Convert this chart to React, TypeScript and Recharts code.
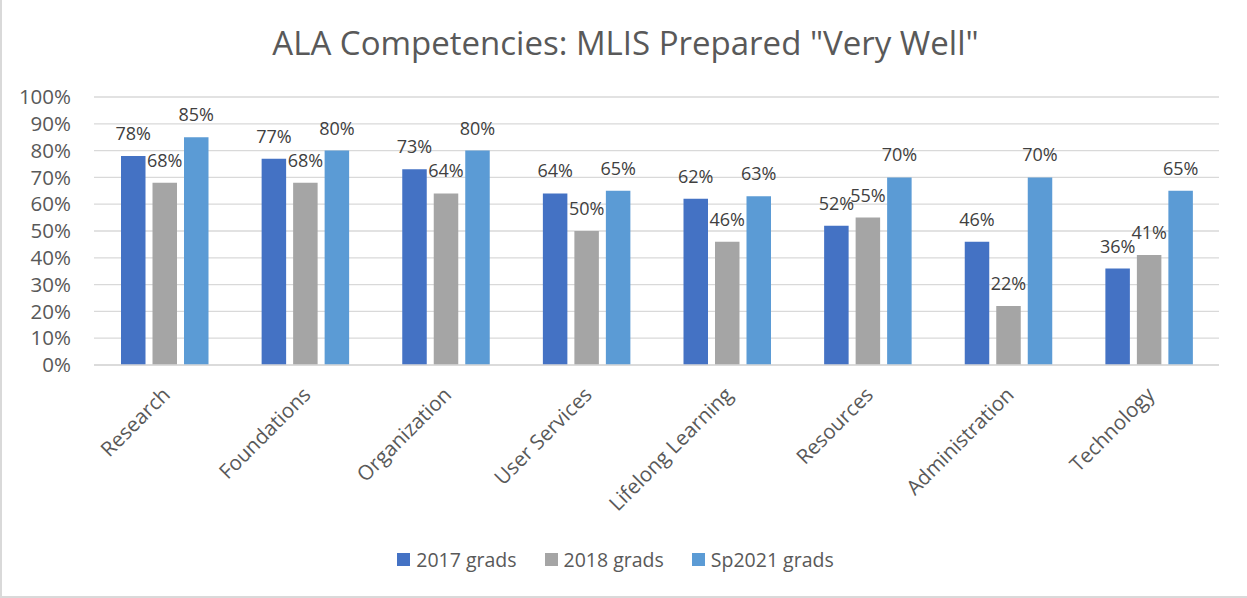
// @ts-nocheck
import React from 'react';
import { BarChart, Bar, XAxis, YAxis, CartesianGrid, Legend, LabelList } from 'recharts';

// categories and series (percent)
const categories = [
  'Research',
  'Foundations',
  'Organization',
  'User Services',
  'Lifelong Learning',
  'Resources',
  'Administration',
  'Technology',
];
const grads2017 = [78, 77, 73, 64, 62, 52, 46, 36];
const grads2018 = [68, 68, 64, 50, 46, 55, 22, 41];
const gradsSp2021 = [85, 80, 80, 65, 63, 70, 70, 65];
const yTicks = [0, 10, 20, 30, 40, 50, 60, 70, 80, 90, 100];

const series = [
  { key: '2017 grads', values: grads2017, color: '#4472C4' },
  { key: '2018 grads', values: grads2018, color: '#A5A5A5' },
  { key: 'Sp2021 grads', values: gradsSp2021, color: '#5B9BD5' },
];

const data = categories.map((name, i) => {
  const row: any = { name };
  series.forEach((s) => {
    row[s.key] = s.values[i];
  });
  return row;
});

const FONT = '"Open Sans", sans-serif';

const CategoryTick = ({ x, y, payload }: any) => (
  <g transform={`translate(${x + 7},${y + 31})`}>
    <text
      x={0}
      y={0}
      textAnchor="end"
      transform="rotate(-45)"
      fill="#595959"
      fontSize={20.5}
      fontFamily={FONT}
    >
      {payload.value}
    </text>
  </g>
);

const LegendContent = () => (
  <div
    style={{
      display: 'flex',
      justifyContent: 'center',
      gap: 28,
      fontFamily: FONT,
      fontSize: 19.5,
      color: '#595959',
    }}
  >
    {series.map((s) => (
      <div key={s.key} style={{ display: 'flex', alignItems: 'center' }}>
        <span style={{ width: 13, height: 13, background: s.color, marginRight: 6, display: 'inline-block' }} />
        <span>{s.key}</span>
      </div>
    ))}
  </div>
);

export default function App() {
  return (
    <div
      style={{
        position: 'relative',
        width: 1247,
        height: 598,
        background: '#fff',
        boxSizing: 'border-box',
        borderLeft: '2px solid #d9d9d9',
        borderBottom: '2px solid #d9d9d9',
      }}
    >
      <style>{`body { margin: 0; }`}</style>
      <div
        style={{
          position: 'absolute',
          top: 26,
          left: 0,
          width: 1247,
          textAlign: 'center',
          fontFamily: FONT,
          fontSize: 33,
          lineHeight: 1,
          color: '#595959',
        }}
      >
        ALA Competencies: MLIS Prepared "Very Well"
      </div>
      <div style={{ position: 'absolute', top: 0, left: -2 }}>
        <BarChart
          width={1247}
          height={598}
          data={data}
          margin={{ top: 97, right: 28, bottom: 0, left: 0 }}
          barSize={24.5}
          barGap={7}
        >
          <CartesianGrid vertical={false} stroke="#d9d9d9" strokeWidth={1.3} />
          <XAxis
            dataKey="name"
            height={233}
            tick={<CategoryTick />}
            tickLine={false}
            tickSize={0}
            tickMargin={0}
            interval={0}
            axisLine={{ stroke: '#d9d9d9', strokeWidth: 1.3 }}
          />
          <YAxis
            width={94}
            domain={[0, 100]}
            ticks={yTicks}
            interval={0}
            tickFormatter={(v) => `${v}%`}
            axisLine={false}
            tickLine={false}
            tickSize={0}
            tickMargin={23}
            tick={{ fill: '#595959', fontSize: 20.5, fontFamily: FONT }}
          />
          <Legend
            verticalAlign="middle"
            align="center"
            content={<LegendContent />}
            wrapperStyle={{ top: 546, left: -8, width: 1247 }}
          />
          {series.map((s) => (
            <Bar key={s.key} dataKey={s.key} fill={s.color} isAnimationActive={false}>
              <LabelList
                dataKey={s.key}
                position="top"
                offset={16}
                formatter={(v) => `${v}%`}
                fill="#404040"
                fontSize={18}
                fontFamily={FONT}
              />
            </Bar>
          ))}
        </BarChart>
      </div>
    </div>
  );
}
